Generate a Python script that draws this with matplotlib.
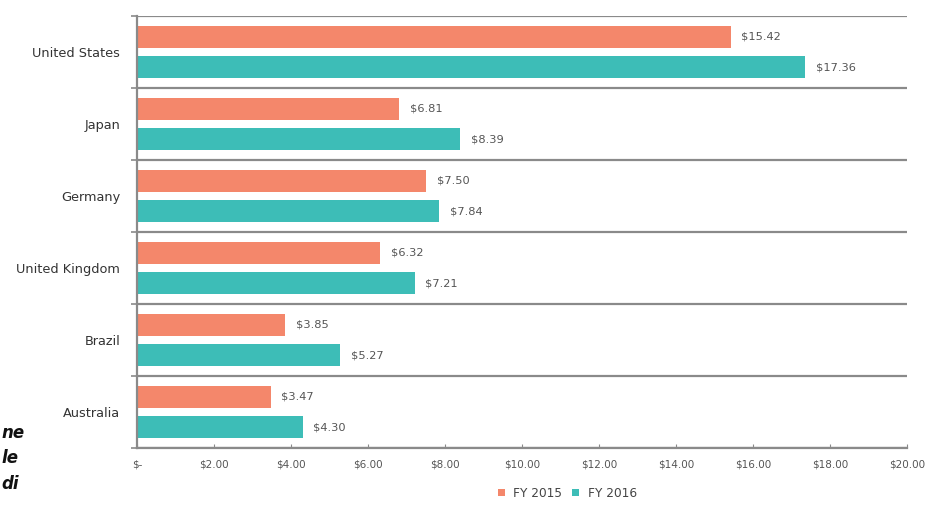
import matplotlib.pyplot as plt
from matplotlib.ticker import FuncFormatter
import numpy as np

countries = ["United States", "Japan", "Germany", "United Kingdom", "Brazil", "Australia"]
fy2015 = [15.42, 6.81, 7.50, 6.32, 3.85, 3.47]
fy2016 = [17.36, 8.39, 7.84, 7.21, 5.27, 4.30]
xticks = [0, 2, 4, 6, 8, 10, 12, 14, 16, 18, 20]

C15 = "#F4876B"
C16 = "#3DBDB7"
GRAY = "#555555"
LINE = "#8a8a8a"

fig = plt.figure(figsize=(9.27, 5.07), dpi=100)
ax = fig.add_axes([0.1478, 0.1164, 0.8306, 0.852])

y = np.arange(len(countries))
off = 0.21
h = 0.31
ax.barh(y - off, fy2015, height=h, color=C15, label="FY 2015")
ax.barh(y + off, fy2016, height=h, color=C16, label="FY 2016")

for yi, v in zip(y, fy2015):
    ax.text(v + 0.28, yi - off, f"${v:.2f}", va="center", ha="left", fontsize=8.2, color=GRAY)
for yi, v in zip(y, fy2016):
    ax.text(v + 0.28, yi + off, f"${v:.2f}", va="center", ha="left", fontsize=8.2, color=GRAY)

# separators between country groups
for b in np.arange(-0.5, len(countries), 1.0):
    ax.axhline(b, color=LINE, lw=1.6, zorder=0)

ax.set_ylim(len(countries) - 0.5, -0.5)
ax.set_xlim(0, 20)
ax.set_yticks(y)
ax.set_yticklabels(countries, fontsize=9.3, color="#333333")
ax.set_yticks(np.arange(-0.5, len(countries), 1.0), minor=True)
ax.tick_params(axis="y", which="major", length=0, pad=12)
ax.tick_params(axis="y", which="minor", length=4, color=LINE, width=1.2)

ax.set_xticks(xticks)
ax.xaxis.set_major_formatter(FuncFormatter(lambda v, p: "$-" if v == 0 else f"${v:.2f}"))
ax.tick_params(axis="x", direction="in", length=3, color=LINE, labelsize=7.5,
               labelcolor=GRAY, pad=8)

for s in ["top", "right"]:
    ax.spines[s].set_visible(False)
ax.spines["left"].set_color(LINE)
ax.spines["left"].set_linewidth(1.6)
ax.spines["bottom"].set_color(LINE)
ax.spines["bottom"].set_linewidth(1.6)

leg = fig.legend(loc="center", bbox_to_anchor=(0.612, 0.027), ncol=2, frameon=False,
                 fontsize=8.7, handlelength=0.6, handleheight=0.6, handletextpad=0.7,
                 columnspacing=0.8)
for t in leg.get_texts():
    t.set_color("#444444")

# fragments of surrounding page text
for txt, ty in [("ne", 433), ("le", 458), ("di", 484)]:
    fig.text(0.002, 1 - ty / 507, txt, fontsize=12, style="italic", weight="bold",
             family=["DejaVu Sans"], va="center", ha="left", color="#111111")

fig.savefig("out.png", dpi=100, facecolor="white")
